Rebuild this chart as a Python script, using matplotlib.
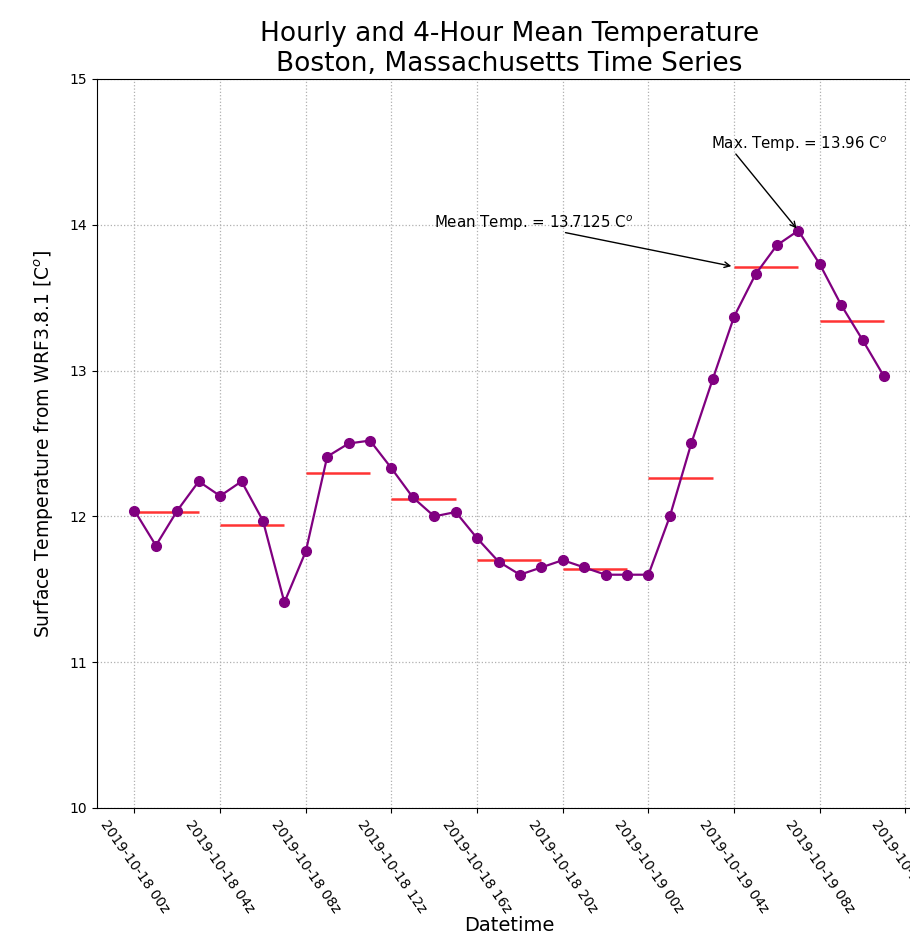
import pandas as pd
import numpy as np
import matplotlib
matplotlib.use('Agg')
import matplotlib.pyplot as plt
import matplotlib.dates as mdates

# hourly WRF surface temperature, Boston (C)
start = '2019-10-18 00:00'
temps = [12.04, 11.80, 12.04, 12.24, 12.14, 12.24, 11.97, 11.41,
         11.76, 12.41, 12.50, 12.52, 12.33, 12.13, 12.00, 12.03,
         11.85, 11.69, 11.60, 11.65, 11.70, 11.65, 11.60, 11.60,
         11.60, 12.00, 12.50, 12.94, 13.37, 13.66, 13.86, 13.96,
         13.73, 13.45, 13.21, 12.96]
yticks = [10, 11, 12, 13, 14, 15]

times = pd.date_range(start, periods=len(temps), freq='h')
df = pd.DataFrame({'T': temps}, index=times)

# 4-hour means
grp = np.arange(len(df)) // 4
means = df['T'].groupby(grp).mean()
g_start = df.index[::4]
g_end = g_start + pd.Timedelta(hours=3)

fig = plt.figure(figsize=(9.1, 9.38), dpi=100)
ax = fig.add_axes([0.1066, 0.1386, 0.906, 0.7772])

ax.hlines(means.values, g_start, g_end, colors='red', alpha=0.8, lw=1.8, zorder=2)
ax.plot(df.index, df['T'], color='purple', marker='o', markersize=7, lw=1.6, zorder=3)

ax.set_ylim(10, 15)
ax.set_yticks(yticks)
ax.xaxis.set_major_locator(mdates.HourLocator(byhour=range(0, 24, 4)))
ax.xaxis.set_major_formatter(mdates.DateFormatter('%Y-%m-%d %Hz'))
plt.setp(ax.get_xticklabels(), rotation=-55, ha='center', fontsize=10)
ax.grid(linestyle=':', color='#b0b0b0', lw=0.9)

ax.set_title('Hourly and 4-Hour Mean Temperature\nBoston, Massachusetts Time Series', fontsize=19)
ax.set_ylabel('Surface Temperature from WRF3.8.1 [C$^o$]', fontsize=13.5, labelpad=10)
ax.set_xlabel('Datetime', fontsize=14, labelpad=0)

# annotations
imax = int(np.argmax(temps))
tmax = df.index[imax]
ax.text(df.index[27] - pd.Timedelta(minutes=5), 14.55, 'Max. Temp. = %.2f C$^o$' % temps[imax],
        fontsize=10.8, va='center', ha='left')
ax.annotate('', xy=(tmax, temps[imax]), xytext=(df.index[28], 14.50),
            arrowprops=dict(arrowstyle='->', color='black', lw=1))

ax.text(df.index[14], 14.01, 'Mean Temp. = %.4f C$^o$' % means.iloc[7],
        fontsize=10.8, va='center', ha='left')
ax.annotate('', xy=(g_start[7], means.iloc[7]), xytext=(df.index[20], 13.95),
            arrowprops=dict(arrowstyle='->', color='black', lw=1))

fig.savefig('out.png', dpi=100)
